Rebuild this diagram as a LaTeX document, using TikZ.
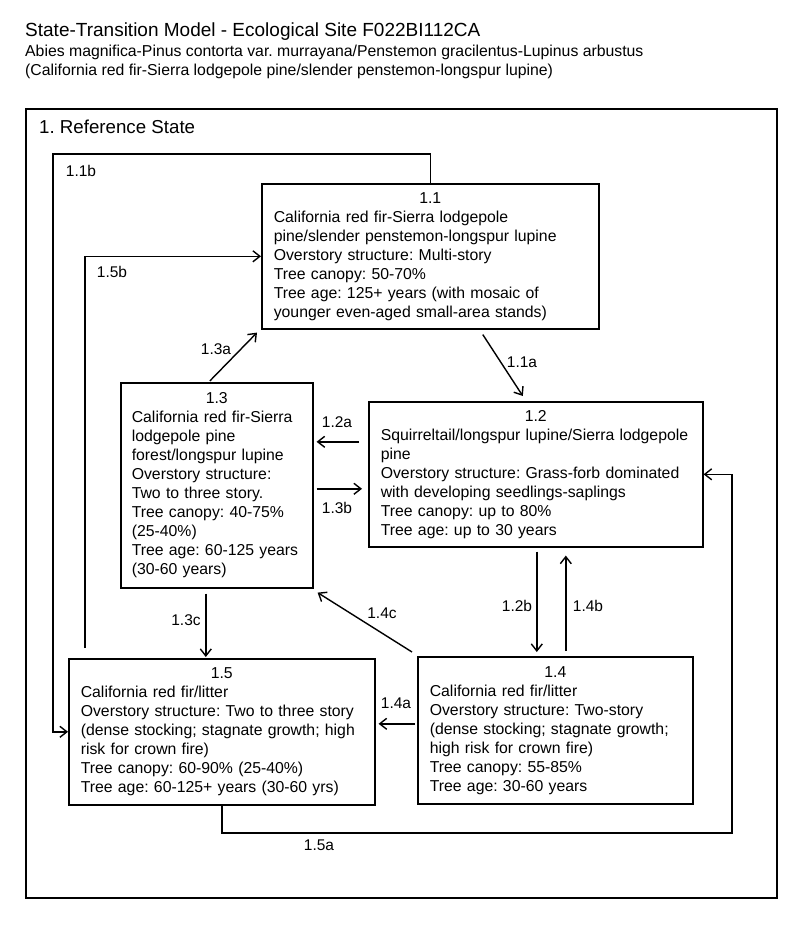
\documentclass[tikz,border=0pt]{standalone}
\usepackage{fontspec}
\setmainfont{Liberation Sans}
\usepackage{tikz}
\usetikzlibrary{calc,arrows.meta}
\newcommand{\sthead}[1]{\makebox[\linewidth]{#1}\\}
\frenchspacing

\begin{document}
\begin{tikzpicture}[x=1pt,y=-1pt,
		state/.style={draw,line width=1.6pt,anchor=north west,align=left,inner xsep=12pt,inner ysep=0pt,font=\fontsize{15.8}{19}\selectfont},
		lab/.style={inner sep=0pt,font=\fontsize{15.5}{18}\selectfont},
		trans/.style={line width=1.4pt,-{Straight Barb[length=7pt,width=11pt]}}]
		\useasboundingbox (0,0) rectangle (800,929);
		%\draw[help lines,step=50] (0,0) grid (800,929);
		% Title
		\node[anchor=base west,inner sep=0pt,font=\fontsize{19}{22}\selectfont] (T1) at (25,36) {State-Transition Model - Ecological Site F022BI112CA};
		\node[anchor=base west,inner sep=0pt,font=\fontsize{15.8}{19}\selectfont] (T2) at (25,56) {Abies magnifica-Pinus contorta var. murrayana/Penstemon gracilentus-Lupinus arbustus};
		\node[anchor=base west,inner sep=0pt,font=\fontsize{15.8}{19}\selectfont] (T3) at (25,75) {(California red fir-Sierra lodgepole pine/slender penstemon-longspur lupine)};
		% Reference state frame
		\draw[line width=2.6pt] (26,109) rectangle (777,898);
		\node[anchor=base west,inner sep=0pt,font=\fontsize{18.7}{22}\selectfont] (R) at (39,133) {1. Reference State};
		% Community phases
		\node[state,text width=313pt,minimum height=145pt] (S11) at (261,183) {\sthead{1.1}California red fir-Sierra lodgepole\\pine/slender penstemon-longspur lupine\\Overstory structure: Multi-story\\Tree canopy: 50-70\%\\Tree age: 125+ years (with mosaic of\\younger even-aged small-area stands)};
		\node[state,text width=310pt,minimum height=145pt] (S12) at (368,401) {\sthead{1.2}Squirreltail/longspur lupine/Sierra lodgepole\\pine\\Overstory structure: Grass-forb dominated\\with developing seedlings-saplings\\Tree canopy: up to 80\%\\Tree age: up to 30 years};
		\node[state,inner xsep=11pt,text width=170pt,minimum height=205pt] (S13) at (120,382) {\sthead{1.3}California red fir-Sierra\\lodgepole pine\\forest/longspur lupine\\Overstory structure:\\Two to three story.\\Tree canopy: 40-75\%\\(25-40\%)\\Tree age: 60-125 years\\(30-60 years)};
		\node[state,text width=251pt,minimum height=147pt] (S14) at (417,656) {\sthead{1.4}California red fir/litter\\Overstory structure: Two-story\\(dense stocking; stagnate growth;\\high risk for crown fire)\\Tree canopy: 55-85\%\\Tree age: 30-60 years};
		\node[state,text width=282pt,minimum height=146pt] (S15) at (68,658) {\sthead{1.5}California red fir/litter\\Overstory structure: Two to three story\\(dense stocking; stagnate growth; high\\risk for crown fire)\\Tree canopy: 60-90\% (25-40\%)\\Tree age: 60-125+ years (30-60 yrs)};
		% Loop corners
		\coordinate (C11b) at (53,154);
		\coordinate (C15b) at (85,648);
		\coordinate (C15a) at (732,833);
		% Transitions
		\draw[trans] (S11.north) |- (C11b) |- (S15.west);
		\draw[trans] (C15b) |- (S11.west);
		\draw[trans] ($(S11.south)+(52.5,5)$) -- ($(S12.north)+(-13,-5)$);
		\draw[trans] ($(S13.north)+(-7,-1)$) -- ($(S11.south west)+(-4,3)$);
		\draw[trans] ($(S12.west)+(-9,-32.5)$) -- ($(S13.east)+(3,-43.5)$);
		\draw[trans] ($(S13.east)+(3,3.5)$) -- ($(S12.west)+(-6,14.5)$);
		\draw[trans] ($(S13.south)+(-11,5)$) -- ($(S15.north)+(-16,-1)$);
		\draw[trans] ($(S14.north west)+(-5,-4)$) -- ($(S13.south east)+(4,4)$);
		\draw[trans] ($(S12.south)+(1,4)$) -- ($(S14.north)+(-18.5,-4)$);
		\draw[trans] ($(S14.north)+(10.5,-5)$) -- ($(S12.south)+(30,8)$);
		\draw[trans] ($(S14.west)+(-2,-6.5)$) -- ($(S15.east)+(3,-8)$);
		\draw[trans] (S15.south) |- (C15a) |- (S12.east);
		% Transition labels
		\node[lab] (L11b) at (81,171) {1.1b};
		\node[lab] (L15b) at (112,272) {1.5b};
		\node[lab] (L13a) at (216,349) {1.3a};
		\node[lab] (L11a) at (522,362) {1.1a};
		\node[lab] (L12a) at (337,422) {1.2a};
		\node[lab] (L13b) at (337,508) {1.3b};
		\node[lab] (L13c) at (186,620) {1.3c};
		\node[lab] (L14c) at (382,613) {1.4c};
		\node[lab] (L12b) at (517,606) {1.2b};
		\node[lab] (L14b) at (588,606) {1.4b};
		\node[lab] (L14a) at (396,703) {1.4a};
		\node[lab] (L15a) at (319,845) {1.5a};
	\end{tikzpicture}
\end{document}
